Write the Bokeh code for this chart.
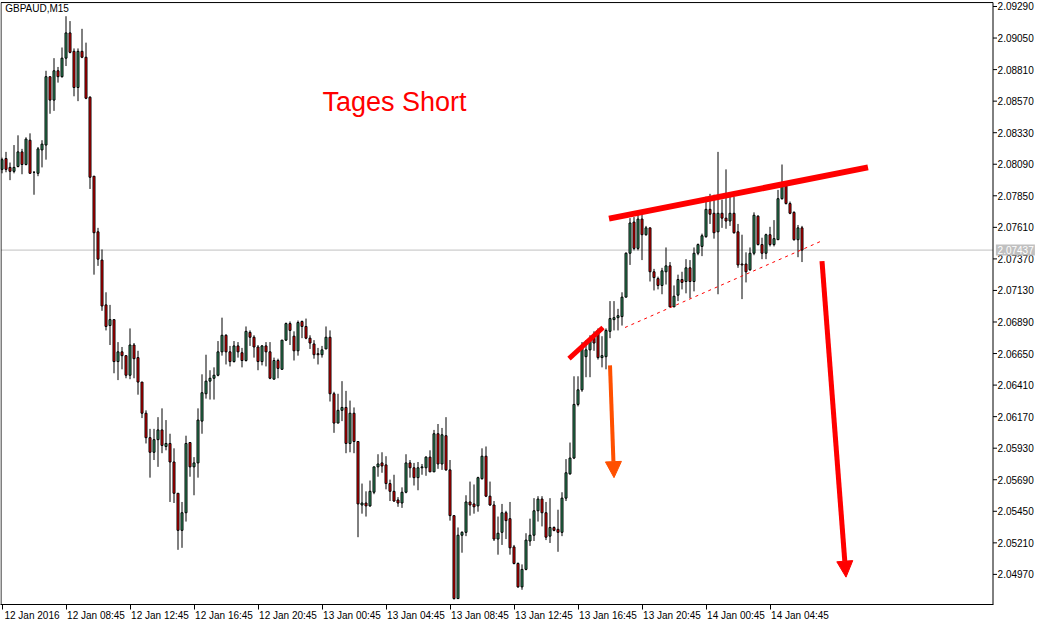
from bokeh.plotting import figure
from bokeh.models import (Range1d, FixedTicker, LinearAxis, Arrow, NormalHead, ColumnDataSource)
from bokeh.core.properties import value
from bokeh.embed import file_html
from bokeh.resources import INLINE

symbol_title = "GBPAUD,M15"

opens = [
    2.08051, 2.08133, 2.08066, 2.08036, 2.08073, 2.08184, 2.08088, 2.08273, 2.08029, 2.08021,
    2.08199, 2.08236, 2.08756, 2.08578, 2.08801, 2.08756, 2.08897, 2.09089, 2.08949, 2.08674,
    2.08949, 2.08904, 2.08600, 2.07999, 2.07576, 2.07361, 2.07020, 2.06863, 2.06908, 2.06589,
    2.06663, 2.06634, 2.06485, 2.06715, 2.06619, 2.06433, 2.06196, 2.06010, 2.05899, 2.05995,
    2.06069, 2.05943, 2.05966, 2.05825, 2.05587, 2.05305, 2.05439, 2.05973, 2.05788, 2.05818,
    2.06136, 2.06344, 2.06440, 2.06462, 2.06485, 2.06663, 2.06789, 2.06663, 2.06589, 2.06708,
    2.06656, 2.06597, 2.06811, 2.06774, 2.06700, 2.06589, 2.06708, 2.06663, 2.06455, 2.06597,
    2.06530, 2.06752, 2.06878, 2.06782, 2.06671, 2.06894, 2.06856, 2.06767, 2.06723, 2.06649,
    2.06641, 2.06685, 2.06774, 2.06344, 2.06121, 2.06218, 2.06240, 2.05966, 2.06196, 2.05981,
    2.05498, 2.05513, 2.05491, 2.05595, 2.05788, 2.05818, 2.05803, 2.05661, 2.05602, 2.05536,
    2.05513, 2.05595, 2.05818, 2.05781, 2.05706, 2.05781, 2.05781, 2.05862, 2.05750, 2.06040,
    2.05810, 2.06025, 2.05765, 2.05417, 2.04786, 2.05268, 2.05290, 2.05521, 2.05506, 2.05491,
    2.05698, 2.05869, 2.05565, 2.05498, 2.05239, 2.05290, 2.05439, 2.05394, 2.05179, 2.05053,
    2.04875, 2.05008, 2.05224, 2.05268, 2.05454, 2.05543, 2.05439, 2.05261, 2.05327, 2.05313,
    2.05290, 2.05550, 2.05735, 2.05855, 2.06263, 2.06374, 2.06626, 2.06678, 2.06767, 2.06826,
    2.06619, 2.06626, 2.06819, 2.06908, 2.06923, 2.06931, 2.07079, 2.07413, 2.07650, 2.07450,
    2.07673, 2.07554, 2.07606, 2.07272, 2.07220, 2.07168, 2.07272, 2.07317, 2.07005, 2.07094,
    2.07213, 2.07198, 2.07302, 2.07198, 2.07413, 2.07465, 2.07539, 2.07747, 2.07717, 2.07576,
    2.07717, 2.07680, 2.07658, 2.07717, 2.07576, 2.07331, 2.07331, 2.07287, 2.07413, 2.07695,
    2.07479, 2.07413, 2.07554, 2.07479, 2.07516, 2.07828, 2.07924, 2.07791, 2.07724, 2.07516,
    2.07606,
]

highs = [
    2.08140, 2.08184, 2.08103, 2.08236, 2.08310, 2.08207, 2.08295, 2.08325, 2.08036, 2.08221,
    2.08273, 2.08801, 2.08756, 2.08897, 2.08830, 2.08978, 2.09216, 2.09179, 2.08971, 2.08971,
    2.09120, 2.09015, 2.08607, 2.07999, 2.07606, 2.07442, 2.07116, 2.07020, 2.06908, 2.06737,
    2.06700, 2.06634, 2.06841, 2.06730, 2.06671, 2.06433, 2.06218, 2.06077, 2.06077, 2.06166,
    2.06233, 2.06144, 2.06040, 2.05929, 2.05587, 2.05521, 2.06025, 2.05973, 2.05862, 2.06233,
    2.06492, 2.06641, 2.06523, 2.06545, 2.06745, 2.06923, 2.06797, 2.06708, 2.06745, 2.06737,
    2.06693, 2.06856, 2.06826, 2.06789, 2.06715, 2.06715, 2.06737, 2.06737, 2.06619, 2.06611,
    2.06752, 2.06886, 2.06894, 2.06819, 2.06901, 2.06901, 2.06916, 2.06789, 2.06752, 2.06693,
    2.06708, 2.06856, 2.06826, 2.06359, 2.06344, 2.06440, 2.06366, 2.06292, 2.06240, 2.05981,
    2.05661, 2.05602, 2.05684, 2.05788, 2.05884, 2.05899, 2.05869, 2.05691, 2.05728, 2.05558,
    2.05632, 2.05884, 2.05840, 2.05818, 2.05825, 2.05810, 2.05869, 2.05914, 2.06069, 2.06114,
    2.06084, 2.06166, 2.05840, 2.05417, 2.05327, 2.05298, 2.05572, 2.05676, 2.05654, 2.05713,
    2.05929, 2.05943, 2.05676, 2.05528, 2.05410, 2.05506, 2.05454, 2.05521, 2.05194, 2.05061,
    2.05046, 2.05283, 2.05394, 2.05550, 2.05565, 2.05565, 2.05521, 2.05550, 2.05335, 2.05462,
    2.05595, 2.05847, 2.05973, 2.06477, 2.06477, 2.06737, 2.06752, 2.06789, 2.06819, 2.06841,
    2.06782, 2.06841, 2.07049, 2.07049, 2.06990, 2.07116, 2.07420, 2.07680, 2.07688, 2.07710,
    2.07710, 2.07621, 2.07606, 2.07294, 2.07235, 2.07302, 2.07457, 2.07346, 2.07168, 2.07250,
    2.07272, 2.07368, 2.07361, 2.07457, 2.07487, 2.07562, 2.07843, 2.07865, 2.07858, 2.08184,
    2.07821, 2.08051, 2.07843, 2.07843, 2.07636, 2.07554, 2.07420, 2.07457, 2.07724, 2.07702,
    2.07531, 2.07562, 2.07614, 2.07665, 2.07895, 2.08088, 2.07954, 2.07806, 2.07732, 2.07628,
    2.07621,
]

lows = [
    2.08021, 2.08029, 2.07969, 2.08021, 2.08066, 2.08014, 2.08081, 2.08021, 2.07858, 2.07999,
    2.08066, 2.08125, 2.08474, 2.08496, 2.08711, 2.08749, 2.08837, 2.08934, 2.08607, 2.08570,
    2.08897, 2.08585, 2.07902, 2.07250, 2.07317, 2.06975, 2.06826, 2.06715, 2.06500, 2.06448,
    2.06530, 2.06462, 2.06455, 2.06462, 2.06337, 2.06159, 2.05966, 2.05706, 2.05840, 2.05788,
    2.05892, 2.05914, 2.05521, 2.05513, 2.05157, 2.05172, 2.05372, 2.05713, 2.05572, 2.05706,
    2.06040, 2.06307, 2.06300, 2.06300, 2.06477, 2.06634, 2.06567, 2.06552, 2.06582, 2.06619,
    2.06545, 2.06589, 2.06708, 2.06619, 2.06523, 2.06560, 2.06552, 2.06455, 2.06455, 2.06462,
    2.06530, 2.06745, 2.06715, 2.06597, 2.06634, 2.06767, 2.06759, 2.06685, 2.06611, 2.06567,
    2.06619, 2.06685, 2.06285, 2.06047, 2.06121, 2.06136, 2.05892, 2.05899, 2.05892, 2.05253,
    2.05432, 2.05410, 2.05484, 2.05580, 2.05713, 2.05743, 2.05617, 2.05528, 2.05521, 2.05484,
    2.05476, 2.05587, 2.05706, 2.05646, 2.05610, 2.05728, 2.05720, 2.05750, 2.05750, 2.05773,
    2.05765, 2.05758, 2.05379, 2.04779, 2.04786, 2.05135, 2.05261, 2.05417, 2.05432, 2.05447,
    2.05691, 2.05558, 2.05491, 2.05224, 2.05120, 2.05194, 2.05239, 2.05120, 2.05046, 2.04868,
    2.04853, 2.05001, 2.05187, 2.05224, 2.05372, 2.05335, 2.05231, 2.05209, 2.05298, 2.05142,
    2.05261, 2.05528, 2.05728, 2.05847, 2.06248, 2.06359, 2.06470, 2.06470, 2.06671, 2.06604,
    2.06545, 2.06530, 2.06767, 2.06826, 2.06826, 2.06863, 2.07079, 2.07324, 2.07435, 2.07435,
    2.07361, 2.07546, 2.07198, 2.07130, 2.07138, 2.07101, 2.07175, 2.07005, 2.07005, 2.07049,
    2.07138, 2.07108, 2.07071, 2.07123, 2.07398, 2.07391, 2.07531, 2.07636, 2.07524, 2.07101,
    2.07606, 2.07599, 2.07621, 2.07562, 2.07302, 2.07064, 2.07191, 2.07279, 2.07398, 2.07472,
    2.07368, 2.07368, 2.07465, 2.07465, 2.07516, 2.07821, 2.07784, 2.07710, 2.07509, 2.07383,
    2.07346,
]

closes = [
    2.08125, 2.08051, 2.08036, 2.08066, 2.08184, 2.08088, 2.08281, 2.08021, 2.08029, 2.08207,
    2.08243, 2.08756, 2.08578, 2.08801, 2.08756, 2.08897, 2.09089, 2.08941, 2.08674, 2.08949,
    2.08904, 2.08592, 2.07991, 2.07569, 2.07368, 2.07012, 2.06856, 2.06908, 2.06589, 2.06663,
    2.06634, 2.06485, 2.06715, 2.06611, 2.06433, 2.06196, 2.06010, 2.05899, 2.05995, 2.06069,
    2.05951, 2.05966, 2.05825, 2.05587, 2.05305, 2.05439, 2.05966, 2.05788, 2.05818, 2.06144,
    2.06352, 2.06440, 2.06462, 2.06485, 2.06663, 2.06789, 2.06663, 2.06589, 2.06708, 2.06663,
    2.06597, 2.06819, 2.06774, 2.06700, 2.06589, 2.06708, 2.06663, 2.06462, 2.06597, 2.06537,
    2.06752, 2.06878, 2.06826, 2.06671, 2.06886, 2.06856, 2.06767, 2.06730, 2.06641, 2.06641,
    2.06678, 2.06774, 2.06344, 2.06121, 2.06218, 2.06240, 2.05966, 2.06196, 2.05981, 2.05506,
    2.05513, 2.05491, 2.05602, 2.05788, 2.05810, 2.05795, 2.05661, 2.05602, 2.05528, 2.05513,
    2.05595, 2.05818, 2.05781, 2.05706, 2.05781, 2.05788, 2.05862, 2.05750, 2.06040, 2.05810,
    2.06032, 2.05765, 2.05417, 2.04786, 2.05268, 2.05290, 2.05521, 2.05498, 2.05484, 2.05706,
    2.05869, 2.05565, 2.05498, 2.05239, 2.05283, 2.05439, 2.05379, 2.05172, 2.05053, 2.04875,
    2.05008, 2.05231, 2.05268, 2.05454, 2.05543, 2.05439, 2.05253, 2.05327, 2.05305, 2.05290,
    2.05550, 2.05743, 2.05855, 2.06263, 2.06374, 2.06693, 2.06678, 2.06752, 2.06730, 2.06619,
    2.06634, 2.06826, 2.06916, 2.06923, 2.06938, 2.07079, 2.07413, 2.07643, 2.07450, 2.07673,
    2.07554, 2.07606, 2.07272, 2.07228, 2.07168, 2.07279, 2.07317, 2.07005, 2.07086, 2.07213,
    2.07191, 2.07302, 2.07198, 2.07413, 2.07479, 2.07546, 2.07747, 2.07710, 2.07569, 2.07717,
    2.07680, 2.07658, 2.07717, 2.07569, 2.07324, 2.07324, 2.07272, 2.07413, 2.07702, 2.07479,
    2.07413, 2.07554, 2.07479, 2.07524, 2.07828, 2.07924, 2.07791, 2.07717, 2.07516, 2.07606,
    2.07437,
]

time_tick_bars = [0, 16, 32, 48, 64, 80, 96, 112, 128, 144, 160, 176, 192]
time_tick_labels = ["12 Jan 2016", "12 Jan 08:45", "12 Jan 12:45", "12 Jan 16:45",
                    "12 Jan 20:45", "13 Jan 00:45", "13 Jan 04:45", "13 Jan 08:45",
                    "13 Jan 12:45", "13 Jan 16:45", "13 Jan 20:45", "14 Jan 00:45",
                    "14 Jan 04:45"]

price_ticks = [2.04970, 2.05210, 2.05450, 2.05690, 2.05930, 2.06170, 2.06410,
               2.06650, 2.06890, 2.07130, 2.07370, 2.07610, 2.07850, 2.08090,
               2.08330, 2.08570, 2.08810, 2.09050, 2.09290]

last_price = 2.07437

note_text = "Tages Short"
note_x = [80.1]
note_y = [2.08563]

resist_x = [151.75, 216.5]
resist_y = [2.07676, 2.08066]
impulse_x = [141.75, 150.25]
impulse_y = [2.06611, 2.06848]
support_x = [155.75, 204.5]
support_y = [2.06848, 2.07501]
orange_arrow_x = [152, 153]
orange_arrow_y = [2.06560, 2.05706]
red_arrow_x = [205, 211]
red_arrow_y = [2.07353, 2.04949]

FONT = "Liberation Sans"
BULL = "#35A06A"
BEAR = "#FF0000"
ORANGE = "#FF5000"

# 4 px per bar; chart area spans bars -0.25 .. 247.75, the rest holds the price scale
X_START = -0.375
X_END = X_START + 1036 / 4.0
CHART_L, CHART_R = -0.25, 247.75
Y_BOTTOM, Y_TOP = 2.04741, 2.09320

p = figure(width=1036, height=623,
           x_range=Range1d(X_START, X_END), y_range=Range1d(Y_BOTTOM, Y_TOP + 0.00008),
           y_axis_location=None, output_backend="svg", toolbar_location=None,
           min_border_left=0, min_border_top=1, min_border_right=0, min_border_bottom=0,
           background_fill_color="white", border_fill_color="white",
           outline_line_color=None)
p.grid.visible = False

# time axis: ticks only
xa = p.xaxis[0]
xa.ticker = FixedTicker(ticks=time_tick_bars)
xa.major_label_overrides = {t: "" for t in time_tick_bars}
xa.major_label_text_font_size = "0px"
xa.major_label_standoff = 0
xa.major_tick_out = 5
xa.major_tick_in = 0
xa.minor_tick_out = 0
xa.minor_tick_in = 0
xa.axis_line_color = "black"
xa.major_tick_line_color = "black"
xa.bounds = (X_START, CHART_R)

# time axis: labels to the right of ticks
label_pos = [t + 7.5 for t in time_tick_bars]
lab_axis = LinearAxis(ticker=FixedTicker(ticks=label_pos),
                      major_label_overrides={pos: s for pos, s in zip(label_pos, time_tick_labels)},
                      axis_line_color=None, major_tick_line_color=None,
                      minor_tick_line_color=None, major_tick_out=0, major_tick_in=0,
                      minor_tick_out=0, minor_tick_in=0, major_label_standoff=0,
                      major_label_text_font=FONT, major_label_text_font_size="10px",
                      major_label_text_color="black")
p.add_layout(lab_axis, "below")

# current price line (chart area only)
p.segment(x0=[CHART_L], y0=[last_price], x1=[CHART_R], y1=[last_price],
          line_color="#C0C0C0", line_width=1)

# candles
bars = list(range(len(opens)))
src = ColumnDataSource(dict(
    x=bars, h=highs, l=lows,
    top=[max(o, c) for o, c in zip(opens, closes)],
    bottom=[min(o, c) for o, c in zip(opens, closes)],
    color=[BULL if c >= o else BEAR for o, c in zip(opens, closes)],
))
p.segment(x0="x", y0="h", x1="x", y1="l", source=src, line_color="black", line_width=1)
p.vbar(x="x", width=0.5, top="top", bottom="bottom", source=src,
       fill_color="color", line_color="black", line_width=1)

# chart border (right edge doubles as the price-scale line)
p.quad(left=[CHART_L], right=[CHART_R], top=[Y_TOP], bottom=[Y_BOTTOM],
       fill_color=None, line_color="black", line_width=1)

# price scale: ticks, labels, current price tag
n = len(price_ticks)
p.segment(x0=[CHART_R] * n, y0=price_ticks, x1=[CHART_R + 1.0] * n, y1=price_ticks,
          line_color="black", line_width=1)
p.text(x=[CHART_R + 1.15] * n, y=price_ticks, text=["%.5f" % t for t in price_ticks],
       text_color="black", text_font=value(FONT), text_font_size="10px",
       text_baseline="middle", text_align="left")
p.rect(x=[CHART_R + 5.6], y=[last_price], width=39, height=11,
       width_units="screen", height_units="screen",
       fill_color="#C0C0C0", line_color=None)
p.text(x=[CHART_R + 1.15], y=[last_price], text=["%.5f" % last_price],
       text_color="white", text_font=value(FONT), text_font_size="10px",
       text_baseline="middle", text_align="left")

# drawings
p.line(resist_x, resist_y, line_color="red", line_width=6)
p.line(impulse_x, impulse_y, line_color="red", line_width=5)
p.line(support_x, support_y, line_color="red", line_width=1, line_dash="3 4")
p.add_layout(Arrow(end=NormalHead(size=16, fill_color=ORANGE, line_color=ORANGE),
                   x_start=orange_arrow_x[0], y_start=orange_arrow_y[0],
                   x_end=orange_arrow_x[1], y_end=orange_arrow_y[1],
                   line_color=ORANGE, line_width=4))
p.add_layout(Arrow(end=NormalHead(size=16, fill_color=BEAR, line_color=BEAR),
                   x_start=red_arrow_x[0], y_start=red_arrow_y[0],
                   x_end=red_arrow_x[1], y_end=red_arrow_y[1],
                   line_color=BEAR, line_width=5))

p.text(x=note_x, y=note_y, text=[note_text], text_color="red",
       text_font=value(FONT), text_font_size="27px",
       text_baseline="middle", text_align="left")
p.text(x=[0.8], y=[2.09313], text=[symbol_title], text_color="black",
       text_font=value(FONT), text_font_size="10px",
       text_baseline="top", text_align="left")

open("out.html", "w").write(file_html(p, INLINE))
